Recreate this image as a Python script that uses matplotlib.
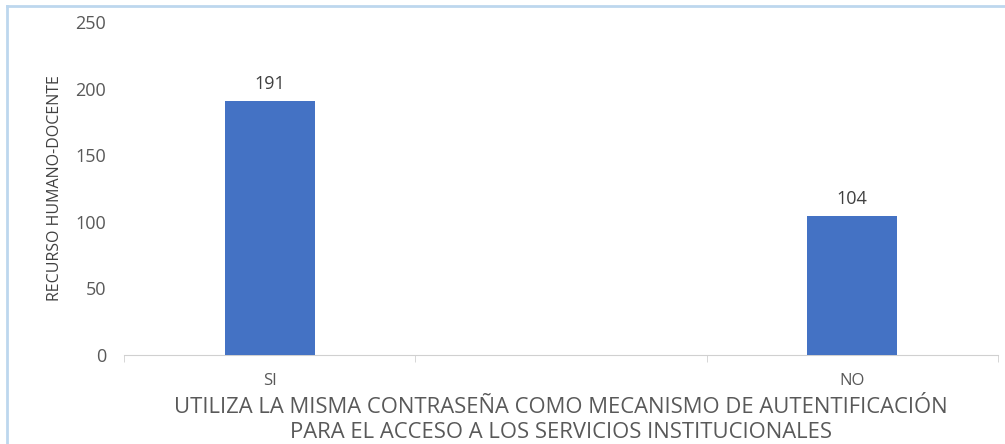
import numpy as np
import matplotlib.pyplot as plt
from matplotlib.lines import Line2D

# respuestas y cantidad de docentes (la columna central va vacia)
respuestas = ["SI", "", "NO"]
cantidades = [191, np.nan, 104]
etiquetas = ["191", "", "104"]
y_ticks = [0, 50, 100, 150, 200, 250]

plt.rcParams['font.family'] = ['Open Sans', 'DejaVu Sans']

fig = plt.figure(figsize=(10.05, 4.44), dpi=100)
ax = fig.add_axes([124/1005, 1 - 355/444, (998-124)/1005, (355-22)/444])

x = np.arange(len(respuestas))
barras = ax.bar(x, cantidades, width=0.31, color="#4472C4", zorder=3)

# valores encima de cada barra
for xi, v, txt in zip(x, cantidades, etiquetas):
    if txt:
        ax.text(xi, v + 6, txt, ha="center", va="bottom", fontsize=13, color="#404040")

ax.set_xlim(-0.5, 2.5)
ax.set_ylim(0, 250)
ax.set_yticks(y_ticks)
ax.set_xticks(x)
ax.set_xticklabels(respuestas)
ax.set_xticks([-0.5, 0.5, 1.5, 2.5], minor=True)
ax.tick_params(axis="x", which="major", length=0, pad=13, labelsize=12, labelcolor="#595959")
ax.tick_params(axis="x", which="minor", length=5, color="#d0d0d0", direction="out")
ax.tick_params(axis="y", length=0, pad=13, labelsize=13, labelcolor="#595959")

for s in ["top", "right", "left"]:
    ax.spines[s].set_visible(False)
ax.spines["bottom"].set_color("#d0d0d0")

ax.set_xlabel("UTILIZA LA MISMA CONTRASEÑA COMO MECANISMO DE AUTENTIFICACIÓN\nPARA EL ACCESO A LOS SERVICIOS INSTITUCIONALES",
              fontsize=15.8, color="#595959", labelpad=6, linespacing=1.22)
ax.set_ylabel("RECURSO HUMANO-DOCENTE", fontsize=11.5, color="#404040", labelpad=9)

# marco del grafico
fig.add_artist(Line2D([7/1005, 7/1005], [0, 1 - 6/444], color="#bdd7ee", lw=2))
fig.add_artist(Line2D([7/1005, 1], [1 - 6/444, 1 - 6/444], color="#bdd7ee", lw=2))

fig.savefig("out.png", dpi=100)
